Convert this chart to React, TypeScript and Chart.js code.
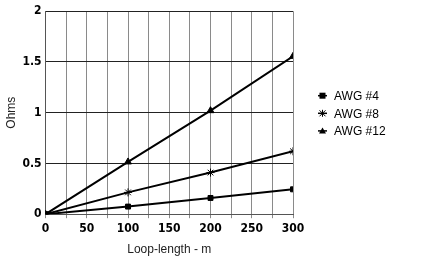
import React, { useEffect, useRef } from "react";
import { Chart, registerables } from "chart.js";

Chart.register(...registerables);

const loopLength = [0, 100, 200, 300];
const awg4 = [0, 0.075, 0.16, 0.245];
const awg8 = [0, 0.215, 0.41, 0.62];
const awg12 = [0, 0.515, 1.02, 1.555];
const seriesNames = ["AWG #4", "AWG #8", "AWG #12"];
const xTitle = "Loop-length - m";
const yTitle = "Ohms";

const legendPlugin = {
  id: "sideLegend",
  afterDraw(chart: any) {
    const ctx = chart.ctx;
    const area = chart.chartArea;
    const x0 = area.right + 25;
    const yMid = (area.top + area.bottom) / 2;
    const rowH = 17.6;
    ctx.save();
    chart.data.datasets.forEach((ds: any, i: number) => {
      const y = yMid - 17 + i * rowH;
      ctx.strokeStyle = "#000";
      ctx.fillStyle = "#000";
      ctx.lineWidth = 1.5;
      ctx.beginPath();
      ctx.moveTo(x0, y);
      ctx.lineTo(x0 + 9, y);
      ctx.stroke();
      ctx.lineWidth = 1;
      const style = ds.pointStyle;
      const cx = x0 + 4.5;
      ctx.beginPath();
      if (style === "rect") {
        ctx.fillRect(cx - 3, y - 3, 6, 6);
      } else if (style === "triangle") {
        ctx.moveTo(cx, y - 3.5);
        ctx.lineTo(cx + 3.5, y + 2.5);
        ctx.lineTo(cx - 3.5, y + 2.5);
        ctx.closePath();
        ctx.fill();
      } else {
        ctx.moveTo(cx - 3, y - 3);
        ctx.lineTo(cx + 3, y + 3);
        ctx.moveTo(cx + 3, y - 3);
        ctx.lineTo(cx - 3, y + 3);
        ctx.moveTo(cx, y - 3.5);
        ctx.lineTo(cx, y + 3.5);
        ctx.stroke();
      }
      ctx.font = "12px 'Liberation Sans', Arial, sans-serif";
      ctx.textBaseline = "middle";
      ctx.textAlign = "left";
      ctx.fillText(ds.label, x0 + 16, y + 1);
    });
    ctx.restore();
  },
};

export default function App() {
  const ref = useRef<HTMLCanvasElement>(null);
  useEffect(() => {
    const font = "'Liberation Sans', Arial, sans-serif";
    const tickFont = "'DejaVu Sans Condensed', 'Liberation Sans Narrow', 'Liberation Sans', sans-serif";
    const toPts = (ys: number[]) => loopLength.map((x, i) => ({ x, y: ys[i] }));
    const chart = new Chart(ref.current!, {
      type: "line",
      data: {
        datasets: [
          { label: seriesNames[0], data: toPts(awg4), pointStyle: "rect", pointRadius: 3.5 },
          { label: seriesNames[1], data: toPts(awg8), pointStyle: "star", pointRadius: 4 },
          { label: seriesNames[2], data: toPts(awg12), pointStyle: "triangle", pointRadius: 4 },
        ].map((d) => ({
          ...d,
          borderColor: "#000",
          backgroundColor: "#000",
          borderWidth: 2,
          pointBorderWidth: 1,
          pointBorderColor: "#000",
          pointBackgroundColor: "#000",
          tension: 0,
        })),
      },
      options: {
        animation: false,
        responsive: false,
        maintainAspectRatio: false,
        layout: { padding: { top: 0, right: 148, left: 4, bottom: 8 } },
        plugins: {
          tooltip: { enabled: false },
          legend: { display: false },
        },
        scales: {
          x: {
            type: "linear",
            min: 0,
            max: 300,
            ticks: {
              stepSize: 25,
              autoSkip: false,
              maxRotation: 0,
              color: "#000",
              padding: 3,
              font: { family: tickFont, size: 12, weight: "bold" },
              callback: (v: any) => (Number(v) % 50 === 0 ? String(v) : ""),
            },
            grid: { color: "#8a8a8a", lineWidth: 1, tickLength: 4 },
            border: { color: "#555" },
            title: {
              display: true,
              text: xTitle,
              color: "#222",
              font: { family: font, size: 12 },
              padding: { top: 4, bottom: 0 },
            },
          },
          y: {
            min: 0,
            max: 2,
            ticks: {
              stepSize: 0.5,
              color: "#000",
              padding: 4,
              font: { family: tickFont, size: 12, weight: "bold" },
              callback: (v: any) => String(Number(v)),
            },
            grid: { color: "#222", lineWidth: 1, tickLength: 0 },
            border: { color: "#555" },
            title: {
              display: true,
              text: yTitle,
              color: "#222",
              font: { family: font, size: 12 },
              padding: { top: 0, bottom: 0 },
            },
          },
        },
      },
      plugins: [legendPlugin],
    });
    return () => chart.destroy();
  }, []);
  return (
    <div style={{ position: "fixed", left: 0, top: 0, width: 441, height: 265, background: "#fff" }}>
      <canvas ref={ref} width={441} height={265} />
    </div>
  );
}
